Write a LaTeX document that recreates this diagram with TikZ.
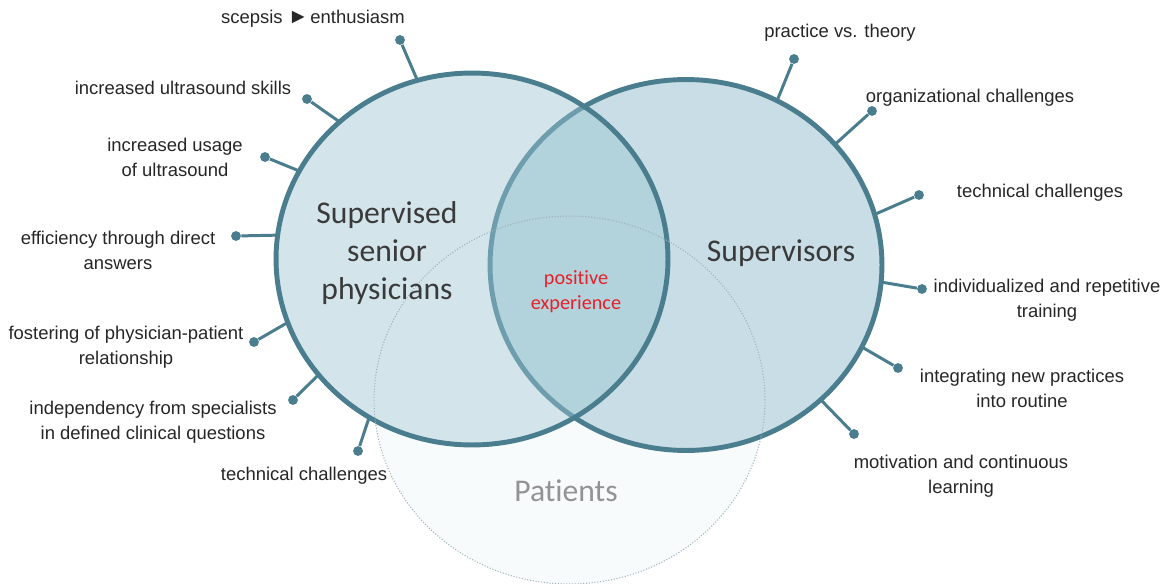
\documentclass[tikz,border=0pt]{standalone}
\usepackage{fontspec}
\setmainfont{Liberation Sans}
\newfontfamily\calibri[Ligatures=NoCommon]{Carlito}
\usetikzlibrary{shapes.geometric,positioning}

\definecolor{ringcol}{HTML}{4A7D8E}
\definecolor{ringlight}{HTML}{6E9EAD}
\definecolor{phyfill}{HTML}{D3E4EB}
\definecolor{supfill}{HTML}{C8DDE5}
\definecolor{lensfill}{HTML}{B2D2DC}
\definecolor{patfill}{HTML}{F8FBFB}
\definecolor{patline}{HTML}{9DB2B9}
\definecolor{txtcol}{HTML}{262626}
\definecolor{bigcol}{HTML}{3A3A3A}
\definecolor{posred}{HTML}{E8202A}

\tikzset{
blob/.style={ellipse, minimum width=7.84cm, minimum height=7.42cm, inner sep=0pt, outer sep=0pt},
ring/.style={line width=2.8pt, draw=ringcol},
spoke/.style={line width=1.7pt, draw=ringcol},
dot/.style={circle, fill=ringcol, inner sep=0pt, minimum size=5.6pt},
item/.style={font=\fontsize{10.5}{14.2}\selectfont, align=center, text=txtcol},
big/.style={font=\calibri\fontsize{18}{21.5}\selectfont, align=center, text=bigcol},
}

\begin{document}
\begin{tikzpicture}[x=0.02cm,y=-0.02cm]
\useasboundingbox (0,0) rectangle (1162,584);

% the three groups
\node[blob, minimum width=7.82cm, minimum height=7.36cm] (pat) at (569.5,400) {};
\node[blob] (sup) at (686,265) {};
\node[blob, minimum height=7.44cm] (phy) at (472,259) {};

\fill[patfill] (pat.center) ellipse [x radius=3.91cm, y radius=3.68cm];
\fill[supfill] (sup.center) ellipse [x radius=3.92cm, y radius=3.71cm];
\draw[ring] (sup.center) ellipse [x radius=3.92cm, y radius=3.71cm];
\fill[phyfill] (phy.center) ellipse [x radius=3.92cm, y radius=3.72cm];
\begin{scope}
\clip (phy.center) ellipse [x radius=3.92cm, y radius=3.72cm];
\fill[lensfill] (sup.center) ellipse [x radius=3.92cm, y radius=3.71cm];
\draw[ring, draw=ringlight] (sup.center) ellipse [x radius=3.92cm, y radius=3.71cm];
\end{scope}
\draw[ring] (phy.center) ellipse [x radius=3.92cm, y radius=3.72cm];
\draw[patline, line width=0.6pt, densely dotted] (pat.center) ellipse [x radius=3.91cm, y radius=3.68cm];

\node[big] (phyname) at (387,253) {Supervised\\senior\\physicians};
\node[big] (supname) at (781,253) {Supervisors};
\node[big, text=gray!85] (patname) at (566,491) {Patients};
\node[font=\calibri\fontsize{11.5}{14.2}\selectfont, align=center, text=posred] (posexp) at (576,292) {positive\\experience};

% supervised senior physicians
\node[dot] (d1) at (400,40) {};
\node[dot] (d2) at (307,99) {};
\node[dot] (d3) at (265,157) {};
\node[dot] (d4) at (236,236) {};
\node[dot] (d5) at (254,342) {};
\node[dot] (d6) at (293,400) {};
\node[dot] (d7) at (358,451) {};
\draw[spoke] (phy.107.6) -- (d1);
\draw[spoke] (phy.134.6) -- (d2);
\draw[spoke] (phy.153.4) -- (d3);
\draw[spoke] (phy.173.3) -- (d4);
\draw[spoke] (phy.199.9) -- (d5);
\draw[spoke] (phy.217.7) -- (d6);
\draw[spoke] (phy.237.8) -- (d7);
\node[item] (l1) at (313,19) {scepsis {\large►}\kern1pt enthusiasm};
\node[item] (l2) at (183,88) {increased ultrasound skills};
\node[item] (l3) at (175,157) {increased usage\\of ultrasound};
\node[item] (l4) at (118,250) {efficiency through direct\\answers};
\node[item] (l5) at (126,347) {fostering of physician-patient\\relationship};
\node[item] (l6) at (153,422) {independency from specialists\\in defined clinical questions};
\node[item] (l7) at (304,476) {technical challenges};

% supervisors
\node[dot] (d8) at (794,59) {};
\node[dot] (d9) at (872,111) {};
\node[dot] (d10) at (919,195) {};
\node[dot] (d11) at (922,289) {};
\node[dot] (d12) at (898,368) {};
\node[dot] (d13) at (854,434) {};
\draw[spoke] (sup.61.7) -- (d8);
\draw[spoke] (sup.39.8) -- (d9);
\draw[spoke] (sup.15.9) -- (d10);
\draw[spoke] (sup.-5.5) -- (d11);
\draw[spoke] (sup.-25) -- (d12);
\draw[spoke] (sup.-45.6) -- (d13);
\node[item] (l8) at (840,33) {practice vs. theory};
\node[item] (l9) at (970,98) {organizational challenges};
\node[item] (l10) at (1040,193) {technical challenges};
\node[item] (l11) at (1047,300) {individualized and repetitive\\training};
\node[item] (l12) at (1022,388) {integrating new practices\\into routine};
\node[item] (l13) at (961,476) {motivation and continuous\\learning};
\end{tikzpicture}
\end{document}
